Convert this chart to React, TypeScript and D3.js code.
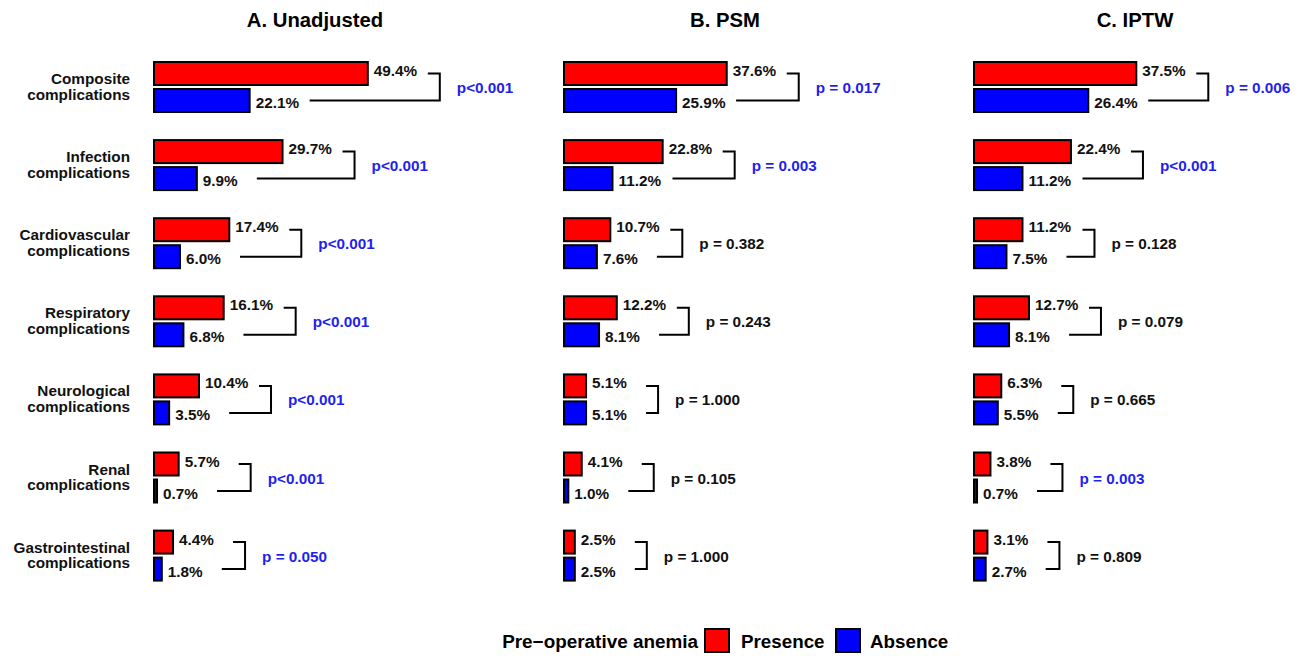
import React from "react";
import * as d3 from "d3";

const categories = [
  ["Composite", "complications"],
  ["Infection", "complications"],
  ["Cardiovascular", "complications"],
  ["Respiratory", "complications"],
  ["Neurological", "complications"],
  ["Renal", "complications"],
  ["Gastrointestinal", "complications"],
];

const panelTitles = ["A. Unadjusted", "B. PSM", "C. IPTW"];

const presenceA = [49.4, 29.7, 17.4, 16.1, 10.4, 5.7, 4.4];
const absenceA = [22.1, 9.9, 6.0, 6.8, 3.5, 0.7, 1.8];
const pValA = [0.0009, 0.0009, 0.0009, 0.0009, 0.0009, 0.0009, 0.05];
const pLabA = ["p<0.001", "p<0.001", "p<0.001", "p<0.001", "p<0.001", "p<0.001", "p = 0.050"];

const presenceB = [37.6, 22.8, 10.7, 12.2, 5.1, 4.1, 2.5];
const absenceB = [25.9, 11.2, 7.6, 8.1, 5.1, 1.0, 2.5];
const pValB = [0.017, 0.003, 0.382, 0.243, 1.0, 0.105, 1.0];
const pLabB = ["p = 0.017", "p = 0.003", "p = 0.382", "p = 0.243", "p = 1.000", "p = 0.105", "p = 1.000"];

const presenceC = [37.5, 22.4, 11.2, 12.7, 6.3, 3.8, 3.1];
const absenceC = [26.4, 11.2, 7.5, 8.1, 5.5, 0.7, 2.7];
const pValC = [0.006, 0.0009, 0.128, 0.079, 0.665, 0.003, 0.809];
const pLabC = ["p = 0.006", "p<0.001", "p = 0.128", "p = 0.079", "p = 0.665", "p = 0.003", "p = 0.809"];

const legendTitle = "Pre\u2212operative anemia";
const legendLabels = ["Presence", "Absence"];

const RED = "#ff0000";
const BLUE = "#0000ff";
const PBLUE = "#1f1fee";
const FONT = "'Liberation Sans', Arial, Helvetica, sans-serif";

const panels = [
  { title: panelTitles[0], pres: presenceA, abs: absenceA, pv: pValA, pl: pLabA },
  { title: panelTitles[1], pres: presenceB, abs: absenceB, pv: pValB, pl: pLabB },
  { title: panelTitles[2], pres: presenceC, abs: absenceC, pv: pValC, pl: pLabC },
];

export default function App() {
  const W = 1306;
  const H = 656;
  const panelX0 = [154, 564, 974];
  const panelW = 322;
  const x = d3.scaleLinear().domain([0, 74.4]).range([0, panelW]);
  const y = d3
    .scalePoint<number>()
    .domain(d3.range(categories.length))
    .range([87, 87 + 78.1 * (categories.length - 1)]);

  const labelOff = 6; // px
  const lineOff = 60; // px
  const bracketOff = 72; // px
  const pOff = 17; // px
  const fs = 15.3;

  return (
    <svg
      width={W}
      height={H}
      style={{ position: "absolute", left: 0, top: 0, background: "#fff" }}
      fontFamily={FONT}
    >
      {/* row labels */}
      {categories.map((c, i) => (
        <text key={"cl" + i} textAnchor="end" fontWeight="bold" fontSize={fs} fill="#111">
          <tspan x={130} y={(y(i) as number) - 3}>{c[0]}</tspan>
          <tspan x={130} y={(y(i) as number) + 12.7}>{c[1]}</tspan>
        </text>
      ))}
      {panels.map((p, pi) => {
        const x0 = panelX0[pi];
        return (
          <g key={"p" + pi} transform={`translate(${x0},0)`}>
            <text
              x={panelW / 2}
              y={26.5}
              textAnchor="middle"
              fontWeight="bold"
              fontSize={20.3}
              fill="#000"
            >
              {p.title}
            </text>
            {categories.map((_, i) => {
              const c = y(i) as number;
              const a = p.pres[i];
              const b = p.abs[i];
              const ya = c - 13.5;
              const yb = c + 13.5;
              const bx = Math.max(x(a), x(b)) + bracketOff;
              const sig = p.pv[i] <= 0.05;
              return (
                <g key={"r" + i}>
                  <rect x={0} y={c - 25} width={x(a)} height={23} fill={RED} stroke="#000" strokeWidth={2} />
                  <rect x={0} y={c + 2} width={x(b)} height={23} fill={BLUE} stroke="#000" strokeWidth={2} />
                  <text x={x(a) + labelOff} y={c - 11} fontWeight="bold" fontSize={fs} fill="#111">
                    {a.toFixed(1)}%
                  </text>
                  <text x={x(b) + labelOff} y={c + 21} fontWeight="bold" fontSize={fs} fill="#111">
                    {b.toFixed(1)}%
                  </text>
                  <path
                    d={`M${x(a) + lineOff},${ya}H${bx}V${yb}H${x(b) + lineOff}`}
                    fill="none"
                    stroke="#000"
                    strokeWidth={2}
                  />
                  <text
                    x={bx + pOff}
                    y={c + 6}
                    fontWeight="bold"
                    fontSize={fs}
                    fill={sig ? PBLUE : "#111"}
                  >
                    {p.pl[i]}
                  </text>
                </g>
              );
            })}
          </g>
        );
      })}
      {/* legend */}
      <text x={698} y={648} textAnchor="end" fontWeight="bold" fontSize={18.9} fill="#000">
        {legendTitle}
      </text>
      <rect x={705} y={629} width={24} height={23} fill={RED} stroke="#000" strokeWidth={2} />
      <text x={741} y={648} fontWeight="bold" fontSize={18.8} fill="#000">
        {legendLabels[0]}
      </text>
      <rect x={836} y={629} width={24} height={23} fill={BLUE} stroke="#000" strokeWidth={2} />
      <text x={870} y={648} fontWeight="bold" fontSize={18.8} fill="#000">
        {legendLabels[1]}
      </text>
    </svg>
  );
}
